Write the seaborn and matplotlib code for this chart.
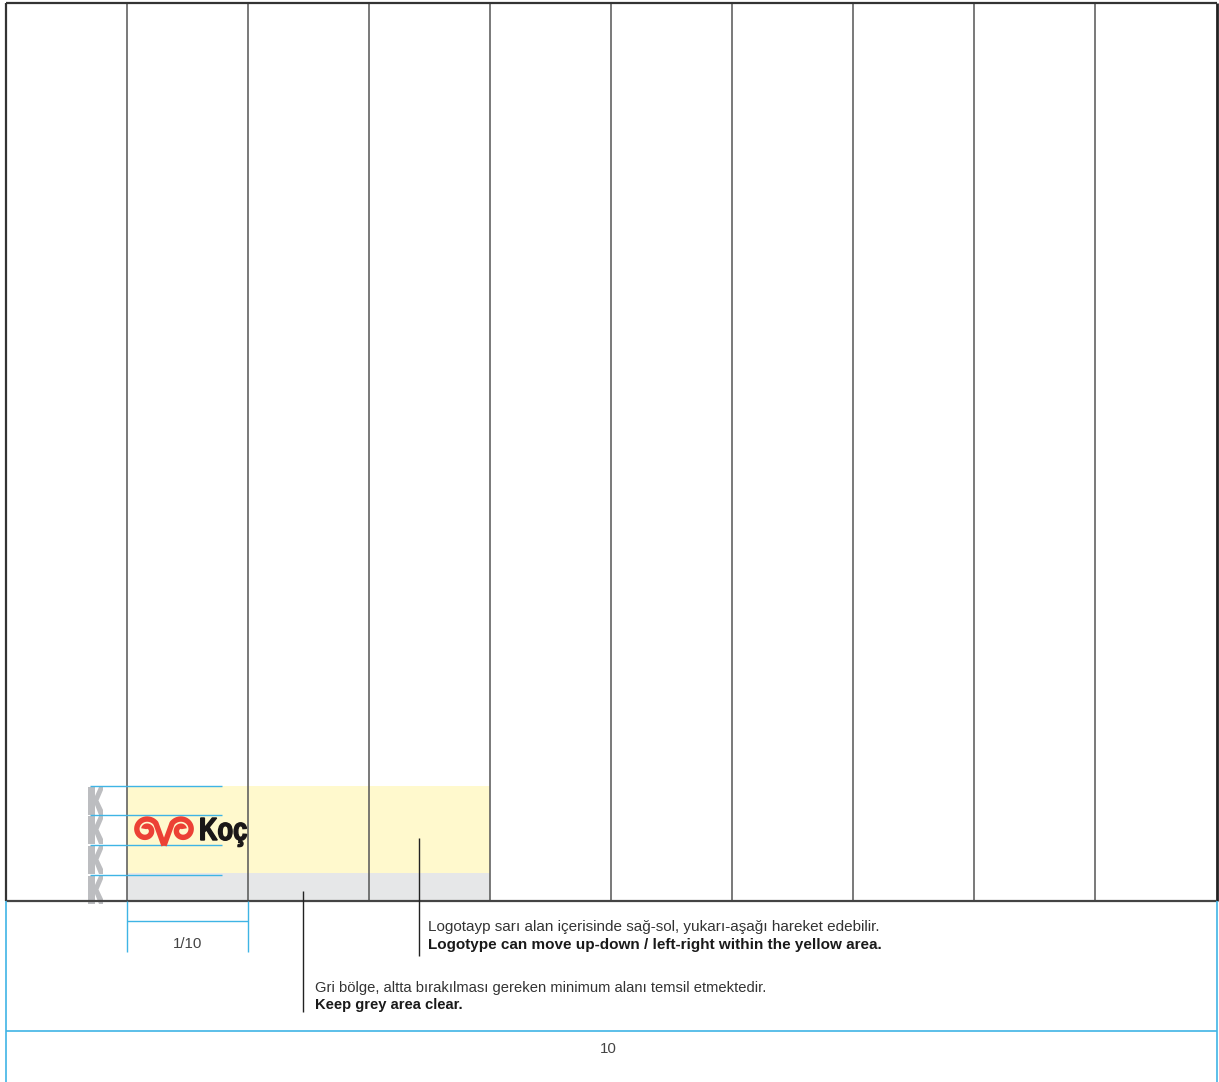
import numpy as np
import seaborn as sns
from matplotlib import pyplot as plt
from matplotlib.patches import Rectangle, Polygon, PathPatch
from matplotlib.textpath import TextPath
from matplotlib.font_manager import FontProperties
from matplotlib.transforms import Affine2D

# page grid (pixel positions)
col_edges = [6, 127, 248, 369, 490, 611, 732, 853, 974, 1095, 1217]
page_top = 3
page_bottom = 901
footer_line = 1031
page_number = "10"

# zones: (x0, x1, y0, y1)
yellow_zone = (127, 490, 786, 873)
grey_zone = (127, 490, 873, 901)

# clearance bands (K height units)
k_bands = [786, 815, 845, 875]
k_height = 29

notes_tr = ["Logotayp sarı alan içerisinde sağ-sol, yukarı-aşağı hareket edebilir.",
            "Gri bölge, altta bırakılması gereken minimum alanı temsil etmektedir."]
notes_en = ["Logotype can move up-down / left-right within the yellow area.",
            "Keep grey area clear."]
note_x = [428, 315]
note_y = [931, 992]
note_size = [11.0, 10.6]
leader_x = [419, 303]
leader_top = [838, 891]
leader_bottom = [956, 1012]

blue = "#3fb4e5"
grid_col = "#555555"
red = "#ec4135"

sns.set_theme(style="white")
plt.rcParams['font.family'] = ['Liberation Sans', 'DejaVu Sans']

fig = plt.figure(figsize=(12.19, 10.82), dpi=100)
ax = fig.add_axes([0, 0, 1, 1])
ax.set_xlim(0, 1219)
ax.set_ylim(1082, 0)
ax.axis('off')

# yellow + grey zones
for (x0, x1, y0, y1), c in [(yellow_zone, "#fff9cd"), (grey_zone, "#e6e7e8")]:
    ax.add_patch(Rectangle((x0, y0), x1 - x0, y1 - y0, color=c, lw=0, zorder=1))

# grey K clearance marks
for y0 in k_bands:
    h = k_height
    pts = [(88, y0 + 1), (95, y0 + 1), (95, y0 + 10), (99, y0 + 1), (103, y0 + 1),
           (103, y0 + 4), (98.5, y0 + 14.5), (103, y0 + 24), (103, y0 + h),
           (99, y0 + h), (95, y0 + 19), (95, y0 + h), (88, y0 + h)]
    ax.add_patch(Polygon(pts, closed=True, color="#bcbdc0", lw=0, zorder=2))

# column grid
ax.vlines(col_edges[1:-1], page_top, page_bottom, color=grid_col, lw=1.1, zorder=3)
ax.vlines([col_edges[0]], page_top, page_bottom, color="#333333", lw=1.6, zorder=3)
ax.vlines([col_edges[-1]], page_top, page_bottom, color="#222222", lw=2.0, zorder=3)
ax.hlines([page_top], col_edges[0], col_edges[-1], color="#333333", lw=1.6, zorder=3)
ax.hlines([page_bottom], col_edges[0], col_edges[-1], color="#444444", lw=1.6, zorder=4)

# blue guides
ax.hlines(k_bands, 90, 222, color=blue, lw=1.0, zorder=4)
ax.vlines([col_edges[1], col_edges[2]], page_bottom, 952, color=blue, lw=1.0, zorder=4)
ax.hlines([921], col_edges[1], col_edges[2], color=blue, lw=1.0, zorder=4)
ax.text((col_edges[1] + col_edges[2]) / 2, 944, "1/10", ha='center', va='center',
        fontsize=10.8, color="#444444")
ax.vlines([col_edges[0], col_edges[-1]], page_bottom, 1082, color=blue, lw=1.2, zorder=4)
ax.hlines([footer_line], col_edges[0], col_edges[-1], color=blue, lw=1.2, zorder=4)
ax.text(608, 1049, page_number, ha='center', va='center', fontsize=10.8, color="#444444")

# logo symbol: two spirals joined by a V
def spiral(cx, cy, mirror):
    phi = np.radians(np.linspace(35, 510, 240))
    r = np.linspace(12.0, 2.5, phi.size)
    x = cx + r * np.cos(phi)
    y = cy - r * np.sin(phi)
    x = np.concatenate([[164], x])
    y = np.concatenate([[845.5], y])
    if mirror:
        x = 2 * 164 - x
    return x, y

for m in (False, True):
    sx, sy = spiral(146, 830, m)
    ax.plot(sx, sy, color=red, lw=3.9, solid_capstyle='butt', solid_joinstyle='round', zorder=5)

# condensed heavy wordmark
tp = TextPath((0, 0), "Koç", size=32, prop=FontProperties(family='Liberation Sans', weight='bold'))
tr = Affine2D().scale(0.8, -1.0).translate(199, 840) + ax.transData
ax.add_patch(PathPatch(tp, transform=tr, color="#1a1718", lw=1.0, zorder=5))

# leader lines and notes
ax.vlines(leader_x, leader_top, leader_bottom, color="#222222", lw=1.0, zorder=5)
for x, y, fs, t_tr, t_en in zip(note_x, note_y, note_size, notes_tr, notes_en):
    ax.text(x, y, t_tr, ha='left', va='baseline', fontsize=fs, color="#333333")
    ax.text(x, y + 17.5, t_en, ha='left', va='baseline', fontsize=fs, fontweight='bold',
            color="#1a1a1a")

fig.savefig("out.png", dpi=100)
